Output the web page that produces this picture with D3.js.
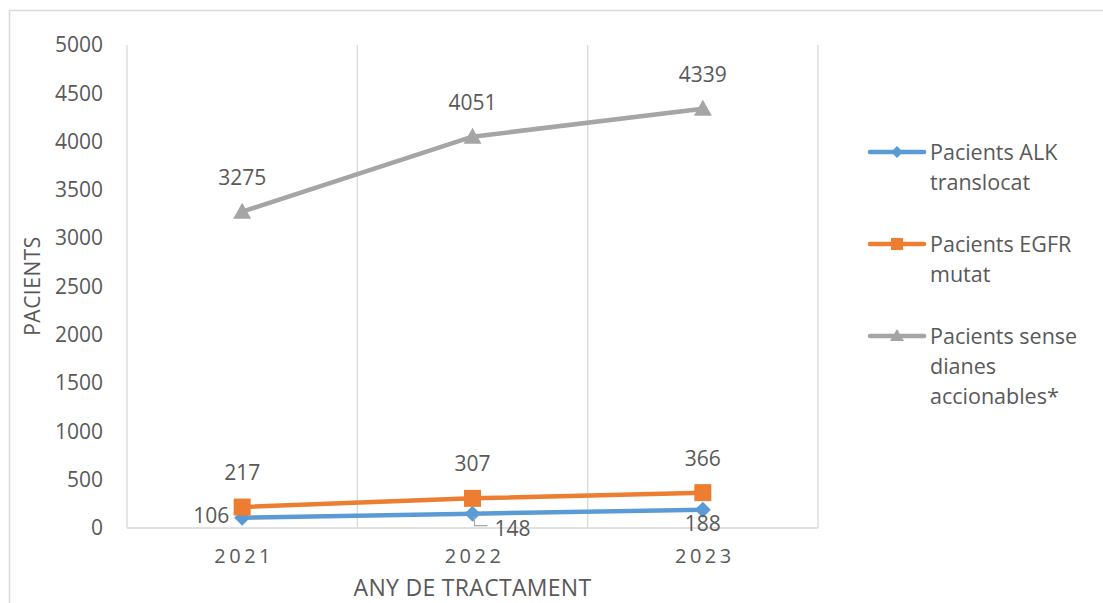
<!DOCTYPE html>
<html>
<head>
<meta charset="utf-8">
<script src="https://cdn.jsdelivr.net/npm/d3@7"></script>
<style>
  html, body { margin: 0; padding: 0; background: #fff; }
  svg { display: block; font-family: "Open Sans", "Liberation Sans", sans-serif; }
</style>
</head>
<body>
<svg id="chart" width="1103" height="603"></svg>
<script>
// Patients per year of treatment
const years = ["2021", "2022", "2023"];
const alkValues = [106, 148, 188];
const egfrValues = [217, 307, 366];
const senseValues = [3275, 4051, 4339];
const yTicks = [0, 500, 1000, 1500, 2000, 2500, 3000, 3500, 4000, 4500, 5000];
const seriesNames = ["Pacients ALK translocat", "Pacients EGFR mutat", "Pacients sense dianes accionables*"];

const series = [
  { name: seriesNames[0], values: alkValues, color: "#5b9bd5", symbol: "diamond",
    labelPos: ["left", "belowRightLeader", "below"] },
  { name: seriesNames[1], values: egfrValues, color: "#ed7d31", symbol: "square",
    labelPos: ["above", "above", "above"] },
  { name: seriesNames[2], values: senseValues, color: "#a5a5a5", symbol: "triangle",
    labelPos: ["above", "above", "above"] }
];

const svg = d3.select("#chart");
const textColor = "#595959";
const gridColor = "#d9d9d9";
const fontFamily = "\"Open Sans\", \"Liberation Sans\", sans-serif";

// chart frame
svg.append("rect")
  .attr("x", 9.5).attr("y", 10.5).attr("width", 1100).attr("height", 600)
  .attr("fill", "none").attr("stroke", gridColor).attr("stroke-width", 1.5);

const plot = { left: 127, right: 818, top: 45, bottom: 528 };

const x = d3.scaleBand().domain(years).range([plot.left, plot.right]);
const y = d3.scaleLinear().domain([0, 5000]).range([plot.bottom, plot.top]);

// vertical category gridlines
const bounds = [plot.left].concat(years.map(d => x(d) + x.bandwidth()));
svg.append("g").selectAll("line").data(bounds).join("line")
  .attr("x1", d => d).attr("x2", d => d)
  .attr("y1", plot.top).attr("y2", plot.bottom)
  .attr("stroke", gridColor).attr("stroke-width", 1.3);

// baseline
svg.append("line")
  .attr("x1", plot.left).attr("x2", plot.right)
  .attr("y1", y(0)).attr("y2", y(0))
  .attr("stroke", gridColor).attr("stroke-width", 1.3);

// y axis labels
const yAxis = d3.axisLeft(y).tickValues(yTicks).tickFormat(d3.format("d")).tickSize(0).tickPadding(24);
const yG = svg.append("g").attr("transform", `translate(${plot.left},0)`).call(yAxis);
yG.select(".domain").remove();
yG.selectAll("text")
  .attr("fill", textColor).style("font-size", "21px")
  .style("font-family", fontFamily);

// x axis labels
const xAxis = d3.axisBottom(x).tickSize(0).tickPadding(21);
const xG = svg.append("g").attr("transform", `translate(0,${plot.bottom})`).call(xAxis);
xG.select(".domain").remove();
xG.selectAll("text")
  .attr("fill", textColor).style("font-size", "20px")
  .style("letter-spacing", "3.5px")
  .style("font-family", fontFamily)
  .attr("dx", "2px");

// axis titles
svg.append("text")
  .attr("transform", "translate(40,286) rotate(-90)")
  .attr("text-anchor", "middle").attr("fill", textColor)
  .style("font-size", "21px").style("letter-spacing", "0.5px").text("PACIENTS");
svg.append("text")
  .attr("x", (plot.left + plot.right) / 2).attr("y", 596)
  .attr("text-anchor", "middle").attr("fill", textColor)
  .style("font-size", "23px").style("letter-spacing", "0.3px").text("ANY DE TRACTAMENT");

const cx = d => x(d) + x.bandwidth() / 2;

function drawSymbol(g, type, px, py, color) {
  if (type === "diamond") {
    g.append("path")
      .attr("d", `M${px},${py - 8}L${px + 8},${py}L${px},${py + 8}L${px - 8},${py}Z`)
      .attr("fill", color);
  } else if (type === "square") {
    g.append("rect").attr("x", px - 8.5).attr("y", py - 8.5)
      .attr("width", 17).attr("height", 17).attr("fill", color);
  } else {
    g.append("path")
      .attr("d", `M${px},${py - 9}L${px + 9},${py + 7}L${px - 9},${py + 7}Z`)
      .attr("fill", color);
  }
}

const line = d3.line().x((d, i) => cx(years[i])).y(d => y(d));

series.forEach(s => {
  const g = svg.append("g");
  g.append("path").datum(s.values)
    .attr("d", line).attr("fill", "none")
    .attr("stroke", s.color).attr("stroke-width", 4.5)
    .attr("stroke-linecap", "round").attr("stroke-linejoin", "round");
  s.values.forEach((v, i) => drawSymbol(g, s.symbol, cx(years[i]), y(v), s.color));
});

// data labels
series.forEach(s => {
  const g = svg.append("g").attr("fill", textColor).style("font-size", "21px");
  s.values.forEach((v, i) => {
    const px = cx(years[i]), py = y(v);
    const pos = s.labelPos[i];
    let tx = px, ty = py - 27, anchor = "middle";
    if (pos === "left") { tx = px - 13; ty = py + 5; anchor = "end"; }
    if (pos === "below") { tx = px; ty = py + 21; }
    if (pos === "belowRightLeader") {
      tx = px + 22; ty = py + 22; anchor = "start";
      svg.append("path")
        .attr("d", `M${px + 2},${py + 3}L${px + 2},${py + 12}L${px + 15},${py + 12}`)
        .attr("fill", "none").attr("stroke", "#a6a6a6").attr("stroke-width", 1.2);
    }
    g.append("text").attr("x", tx).attr("y", ty)
      .attr("text-anchor", anchor).text(v);
  });
});

// legend
const legend = svg.append("g");
const legendRows = [
  { lines: ["Pacients ALK", "translocat"], y: 152 },
  { lines: ["Pacients EGFR", "mutat"], y: 244 },
  { lines: ["Pacients sense", "dianes", "accionables*"], y: 336 }
];
series.forEach((s, k) => {
  const row = legendRows[k];
  legend.append("line")
    .attr("x1", 870).attr("x2", 924).attr("y1", row.y).attr("y2", row.y)
    .attr("stroke", s.color).attr("stroke-width", 4.5).attr("stroke-linecap", "round");
  if (s.symbol === "diamond") {
    legend.append("path").attr("d", `M897,${row.y - 6}L903,${row.y}L897,${row.y + 6}L891,${row.y}Z`).attr("fill", s.color);
  } else if (s.symbol === "square") {
    legend.append("rect").attr("x", 891).attr("y", row.y - 6).attr("width", 12).attr("height", 12).attr("fill", s.color);
  } else {
    legend.append("path").attr("d", `M897,${row.y - 7}L904,${row.y + 5}L890,${row.y + 5}Z`).attr("fill", s.color);
  }
  const t = legend.append("text").attr("fill", textColor).style("font-size", "21.5px");
  row.lines.forEach((ln, j) => {
    t.append("tspan").attr("x", 930).attr("y", row.y + 8 + j * 30).text(ln);
  });
});
</script>
</body>
</html>
